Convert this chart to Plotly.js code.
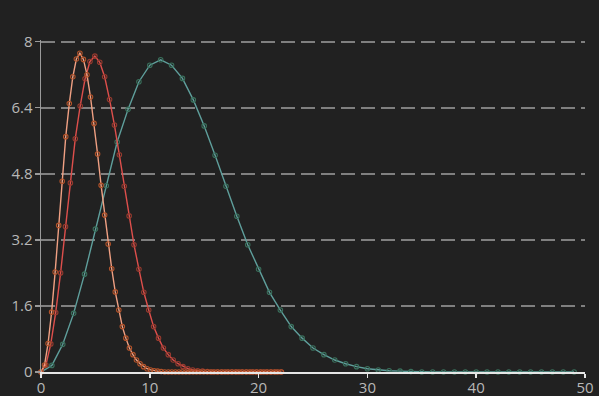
<!DOCTYPE html>
<html>
<head>
<meta charset="utf-8">
<script src="https://cdn.plot.ly/plotly-3.0.1.min.js"></script>
<style>html,body{margin:0;padding:0;background:#212121;}#chart{width:599px;height:396px;}</style>
</head>
<body>
<div id="chart"></div>
<script>
// Teal series: x = 0..49
const tealX = [0,1,2,3,4,5,6,7,8,9,10,11,12,13,14,15,16,17,18,19,20,21,22,23,24,25,26,27,28,29,30,31,32,33,34,35,36,37,38,39,40,41,42,43,44,45,46,47,48,49];
const tealY = [0,0.16,0.67,1.42,2.37,3.46,4.51,5.57,6.36,7.03,7.43,7.56,7.43,7.11,6.59,5.96,5.25,4.50,3.77,3.08,2.49,1.93,1.50,1.10,0.82,0.58,0.42,0.29,0.20,0.13,0.08,0.05,0.03,0.02,0.01,0,0,0,0,0,0,0,0,0,0,0,0,0,0,0];

// Red series
const redX = [0,0.45,0.9,1.35,1.8,2.25,2.7,3.15,3.6,4.05,4.5,4.95,5.4,5.85,6.3,6.75,7.2,7.65,8.1,8.55,9,9.45,9.9,10.35,10.8,11.25,11.7,12.15,12.6,13.05,13.5,13.95,14.4,14.85,15.3,15.75,16.2,16.65,17.1,17.55,18,18.45,18.9,19.35,19.8,20.25,20.7,21.15,21.6,22.05];
const redY = [0,0.17,0.68,1.44,2.40,3.52,4.58,5.65,6.44,7.10,7.52,7.65,7.50,7.15,6.60,5.98,5.26,4.50,3.78,3.08,2.49,1.93,1.50,1.10,0.82,0.58,0.42,0.29,0.20,0.13,0.08,0.05,0.03,0.02,0.01,0,0,0,0,0,0,0,0,0,0,0,0,0,0,0];

// Orange series
const orangeX = [0,0.325,0.65,0.975,1.3,1.625,1.95,2.275,2.6,2.925,3.25,3.575,3.9,4.225,4.55,4.875,5.2,5.525,5.85,6.175,6.5,6.825,7.15,7.475,7.8,8.125,8.45,8.775,9.1,9.425,9.75,10.075,10.4,10.725,11.05,11.375,11.7,12.025,12.35,12.675,13,13.325,13.65,13.975,14.3,14.625,14.95,15.275,15.6,15.925,16.25,16.575,16.9,17.225,17.55,17.875,18.2,18.525,18.85,19.175,19.5,19.825,20.15,20.475,20.8,21.125,21.45,21.775,22.1];
const orangeY = [0,0.17,0.69,1.45,2.42,3.55,4.62,5.70,6.50,7.15,7.58,7.72,7.57,7.20,6.66,6.02,5.28,4.52,3.80,3.10,2.50,1.94,1.50,1.10,0.82,0.58,0.42,0.29,0.20,0.13,0.08,0.05,0.03,0.02,0.01,0,0,0,0,0,0,0,0,0,0,0,0,0,0,0,0,0,0,0,0,0,0,0,0,0,0,0,0,0,0,0,0,0,0];

const yTicks = [0,1.6,3.2,4.8,6.4,8];
const yTickText = ['0','1.6','3.2','4.8','6.4','8'];
const xTicks = [0,10,20,30,40,50];

function series(x, y, lineColor, markerColor) {
  return {
    x: x, y: y, type: 'scatter', mode: 'lines+markers',
    line: {color: lineColor, width: 1.4},
    marker: {symbol: 'circle-open', size: 4.5, color: markerColor, line: {width: 1.1}},
    hoverinfo: 'skip', cliponaxis: false
  };
}

const data = [
  series(tealX, tealY, '#5f9f9c', '#3a705c'),
  series(redX, redY, '#de4f4c', '#963a2e'),
  series(orangeX, orangeY, '#f0a083', '#b3532a')
];

const layout = {
  width: 599, height: 396,
  paper_bgcolor: '#212121', plot_bgcolor: '#212121',
  margin: {l: 41, r: 14, t: 40, b: 24},
  showlegend: false,
  font: {family: 'Open Sans, sans-serif', size: 13, color: '#b5b5b5'},
  xaxis: {
    range: [0, 50], tickvals: xTicks, ticktext: xTicks.map(String),
    showgrid: false, zeroline: false,
    showline: true, linecolor: '#e6e6e6', linewidth: 2,
    ticks: 'outside', ticklen: 4, tickwidth: 1.5, tickcolor: '#e6e6e6',
    ticklabelstandoff: -3,
    tickfont: {size: 15, color: '#b8b8b8'}
  },
  yaxis: {
    range: [0, 8.04], tickvals: yTicks, ticktext: yTickText,
    showgrid: true, gridcolor: '#808080', gridwidth: 2, griddash: '14px,6px',
    zeroline: false,
    showline: true, linecolor: '#9a9a9a', linewidth: 1.5,
    ticks: 'outside', ticklen: 5, tickwidth: 1.5, tickcolor: '#9a9a9a',
    ticklabelstandoff: -1,
    tickfont: {size: 15, color: '#b8b8b8'}
  }
};

Plotly.newPlot('chart', data, layout, {displayModeBar: false, staticPlot: true});
</script>
</body>
</html>
